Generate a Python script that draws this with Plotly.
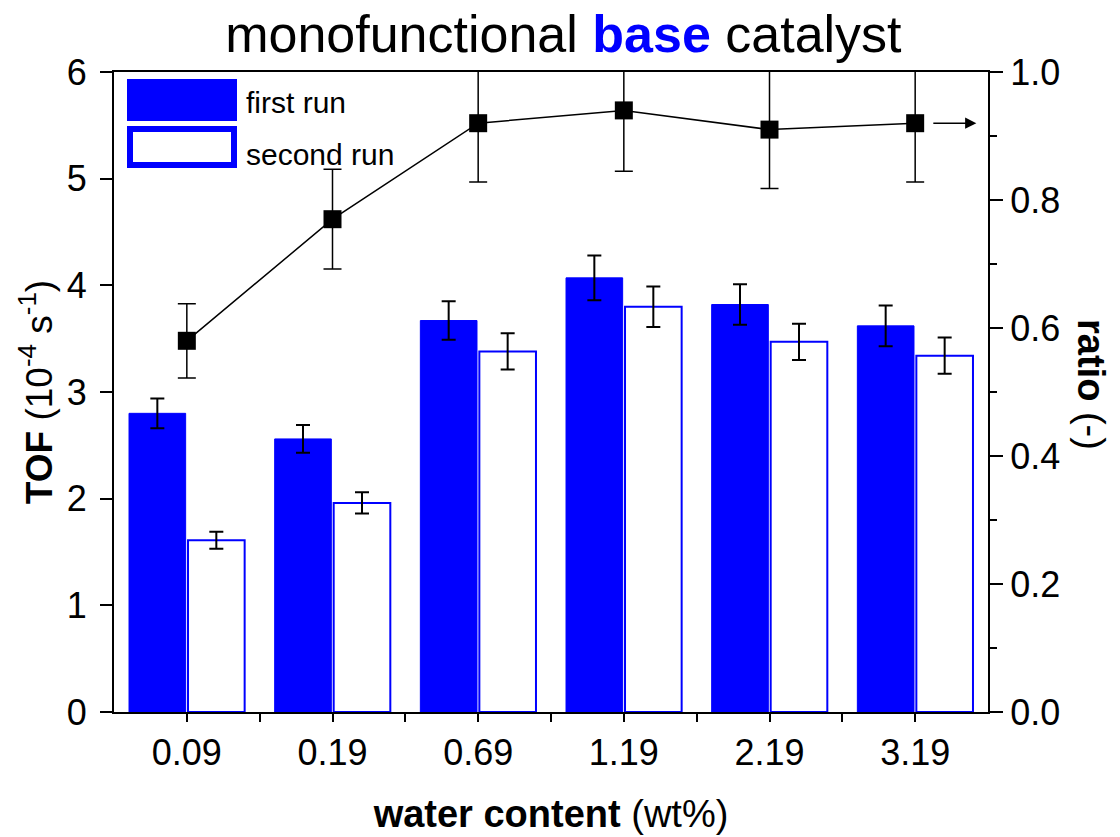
import plotly.graph_objects as go

# ---------------- data ----------------
categories = ["0.09", "0.19", "0.69", "1.19", "2.19", "3.19"]
tof_first = [2.80, 2.56, 3.67, 4.07, 3.82, 3.62]
tof_first_err = [0.14, 0.13, 0.18, 0.21, 0.19, 0.19]
tof_second = [1.61, 1.96, 3.38, 3.80, 3.47, 3.34]
tof_second_err = [0.08, 0.10, 0.17, 0.19, 0.17, 0.17]
ratio = [0.58, 0.77, 0.92, 0.94, 0.91, 0.92]
ratio_err = [0.058, 0.078, 0.092, 0.095, 0.092, 0.092]

BLUE = "#0000FF"
FONT = "Arial, Liberation Sans, sans-serif"
xpos = list(range(len(categories)))

# plot area in pixels (for paper-coordinate helpers)
L, R, T, B = 114, 988, 72, 712
W, H = 1120, 837


def px(x):
    return (x - L) / (R - L)


def py(y):
    return (B - y) / (B - T)


fig = go.Figure()

fig.add_trace(go.Bar(
    x=xpos, y=tof_first, name="first run",
    marker=dict(color=BLUE, line=dict(color=BLUE, width=1)),
    error_y=dict(type="data", array=tof_first_err, color="black", thickness=2, width=7),
    offsetgroup="a",
))
fig.add_trace(go.Bar(
    x=xpos, y=tof_second, name="second run",
    marker=dict(color="white", line=dict(color=BLUE, width=2)),
    error_y=dict(type="data", array=tof_second_err, color="black", thickness=2, width=7),
    offsetgroup="b",
))
fig.add_trace(go.Scatter(
    x=xpos, y=ratio, yaxis="y2", mode="lines+markers", name="ratio",
    line=dict(color="black", width=1.5),
    marker=dict(symbol="square", size=18, color="black"),
    error_y=dict(type="data", array=ratio_err, color="black", thickness=1.5, width=9),
))

# arrow pointing to right axis
fig.add_annotation(
    x=5.42, y=ratio[-1], xref="x", yref="y2",
    ax=5.08, ay=ratio[-1], axref="x", ayref="y2",
    showarrow=True, arrowhead=2, arrowsize=1.6, arrowwidth=1.4, arrowcolor="black", text=" ",
)

# legend (drawn manually)
fig.add_shape(type="rect", xref="paper", yref="paper",
              x0=px(127), x1=px(237), y0=py(121), y1=py(79),
              fillcolor=BLUE, line=dict(color=BLUE, width=0))
fig.add_shape(type="rect", xref="paper", yref="paper",
              x0=px(130), x1=px(234), y0=py(165), y1=py(129),
              fillcolor="white", line=dict(color=BLUE, width=6))
fig.add_annotation(x=px(244), y=py(102), xref="paper", yref="paper", text="first run",
                   showarrow=False, xanchor="left", yanchor="middle",
                   font=dict(family=FONT, size=30, color="black"))
fig.add_annotation(x=px(244), y=py(154), xref="paper", yref="paper", text="second run",
                   showarrow=False, xanchor="left", yanchor="middle",
                   font=dict(family=FONT, size=30, color="black"))

# right axis title (reads top-to-bottom)
fig.add_annotation(x=px(1091), y=py(384), xref="paper", yref="paper",
                   text="<b>ratio</b> (-)", textangle=90, showarrow=False,
                   xanchor="center", yanchor="middle",
                   font=dict(family=FONT, size=38, color="black"))

fig.update_layout(
    width=W, height=H,
    margin=dict(l=L, r=W - R, t=T, b=H - B),
    paper_bgcolor="white", plot_bgcolor="white",
    font=dict(family=FONT, size=36, color="black"),
    showlegend=False,
    barmode="group", bargap=0.19, bargroupgap=0.04,
    title=dict(
        text="monofunctional <b><span style='color:#0000FF'>base</span></b> catalyst",
        x=0.503, xanchor="center", y=1 - 34 / H, yanchor="middle",
        font=dict(family=FONT, size=52, color="black"),
    ),
    xaxis=dict(
        range=[-0.5, 5.5], tickvals=xpos, ticktext=categories,
        showline=True, linecolor="black", linewidth=2, mirror=True,
        ticks="outside", ticklen=8, tickwidth=2, tickcolor="black",
        minor=dict(tickvals=[0.5, 1.5, 2.5, 3.5, 4.5], ticks="outside",
                   ticklen=8, tickwidth=2, tickcolor="black"),
        showgrid=False, zeroline=False, automargin=False,
        tickfont=dict(size=36),
        title=dict(text="<b>water content</b> (wt%)", standoff=28,
                   font=dict(family=FONT, size=38)),
    ),
    yaxis=dict(
        range=[0, 6], dtick=1,
        showline=True, linecolor="black", linewidth=2,
        ticks="outside", ticklen=12, tickwidth=2, tickcolor="black",
        ticklabelstandoff=6,
        showgrid=False, zeroline=False, automargin=False,
        tickfont=dict(size=36),
        title=dict(text="<b>TOF</b> (10<sup>-4</sup> s<sup>-1</sup>)", standoff=3,
                   font=dict(family=FONT, size=37)),
    ),
    yaxis2=dict(
        range=[0, 1], dtick=0.2, tickformat=".1f",
        overlaying="y", side="right",
        showline=True, linecolor="black", linewidth=2,
        ticks="outside", ticklen=13, tickwidth=2, tickcolor="black",
        minor=dict(dtick=0.1, ticks="outside", ticklen=7, tickwidth=2, tickcolor="black"),
        showgrid=False, zeroline=False, automargin=False,
        tickfont=dict(size=36),
    ),
)

fig.write_html("out.html")
